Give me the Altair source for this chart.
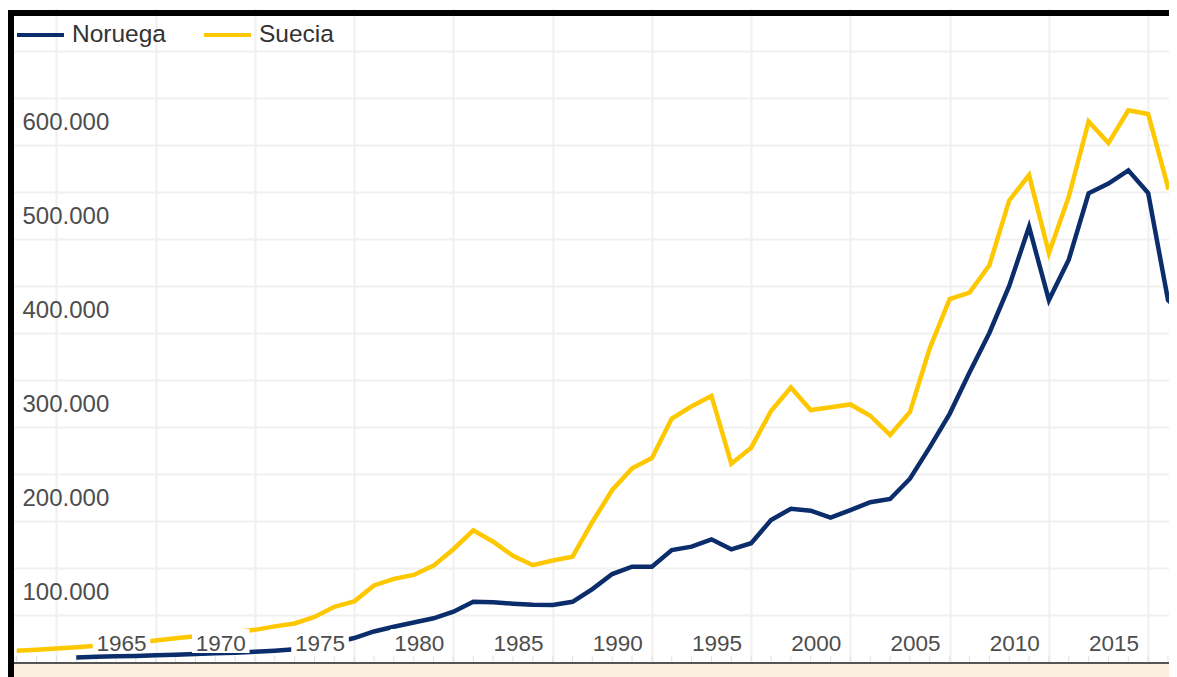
import altair as alt
import pandas as pd

# ---------------- data (GDP, millions US$) ----------------
sweden_years = list(range(1957, 2017))
sweden_values = [12000, 13000, 14300, 15800, 17300, 18900, 20700, 22900, 25200, 27500,
                 29800, 31600, 34200, 37900, 41000, 47900, 58700, 64500, 81500, 88500,
                 92600, 102500, 120000, 140000, 128000, 113000, 103000, 108000, 112000, 149000,
                 183000, 206000, 217000, 259000, 272000, 283000, 211000, 228000, 267000, 292000,
                 268000, 271000, 274000, 262000, 241500, 266000, 334000, 386000, 393000, 422000,
                 491000, 518000, 435000, 495000, 575000, 552000, 587000, 583000, 505000, 515000]

norway_years = list(range(1960, 2017))
norway_values = [4800, 5500, 6000, 6500, 7100, 7800, 8500, 9300, 9900, 10800,
                 12000, 13500, 16000, 20500, 25500, 32500, 37500, 42000, 46500, 53500,
                 64000, 63500, 62000, 60800, 60600, 64000, 77500, 93600, 101400, 101400,
                 119100, 122700, 130500, 119900, 126300, 151000, 163000, 161000, 153500, 161500,
                 170000, 173400, 195000, 228600, 264000, 308000, 350000, 400000, 463000, 385000,
                 428000, 498600, 509000, 523000, 499000, 385000, 366000]

series_names = ["Noruega", "Suecia"]
series_colors = ["#0b2d6b", "#fec800"]

x_grid_years = list(range(1959, 2015, 5))
x_label_years = list(range(1965, 2016, 5))
minor_years = list(range(1957, 2016))
y_grid_values = list(range(50000, 700000, 50000))

# ---------------- build table ----------------
df = pd.concat([
    pd.DataFrame({"year": norway_years, "value": norway_values, "pais": "Noruega"}),
    pd.DataFrame({"year": sweden_years, "value": sweden_values, "pais": "Suecia"}),
])
labels_df = pd.DataFrame({"year": x_label_years, "text": [str(y) for y in x_label_years]})
minor_df = pd.DataFrame({"year": minor_years})
one = pd.DataFrame({"a": [0]})

FONT = "Liberation Sans, Arial, sans-serif"
W, H = 1161, 654
GRID = "#f0f0f0"
LABEL_SHIFT = 2.72   # labels sit between grid lines (years)
BOX_HALF = 1.45      # half width of the white box behind x labels (years)

x_scale = alt.Scale(domain=[1956.56, 2015.05], nice=False, zero=False)
y_scale = alt.Scale(domain=[0, 695745], nice=False, zero=False)

x_axis = alt.Axis(values=x_grid_years, grid=True, gridColor=GRID, gridWidth=2,
                  labels=False, ticks=False, tickSize=0, domain=False, title=None)
y_axis = alt.Axis(values=y_grid_values, grid=True, gridColor=GRID, gridWidth=2,
                  ticks=False, tickSize=0, domain=False, title=None,
                  labelExpr="datum.value % 100000 == 0 ? format(datum.value / 1000, 'd') + '.000' : ''",
                  labelAlign="left", labelBaseline="alphabetic", labelPadding=-14, labelOffset=31,
                  labelFont=FONT, labelFontSize=24, labelColor="#4d4d4d",
                  labelOverlap=False)

lines = alt.Chart(df).mark_line(strokeWidth=4.5, clip=True).encode(
    x=alt.X("year:Q", scale=x_scale, axis=x_axis),
    y=alt.Y("value:Q", scale=y_scale, axis=y_axis),
    color=alt.Color("pais:N",
                    scale=alt.Scale(domain=series_names, range=series_colors),
                    legend=alt.Legend(orient="none", legendX=7, legendY=1.5,
                                      direction="horizontal", title=None,
                                      symbolType="stroke", symbolStrokeWidth=4,
                                      symbolSize=2209, labelFontSize=24.5, labelFont=FONT,
                                      labelColor="#333333", columnPadding=30,
                                      labelOffset=6)),
)

minor = alt.Chart(minor_df).mark_rule(color="#e2e2e2", strokeWidth=1).encode(
    x=alt.X("year:Q", scale=x_scale, axis=x_axis),
    y=alt.value(648), y2=alt.value(654),
)

boxes = alt.Chart(labels_df).transform_calculate(
    x_lo=f"datum.year - {LABEL_SHIFT} - {BOX_HALF}",
    x_hi=f"datum.year - {LABEL_SHIFT} + {BOX_HALF}",
).mark_rect(color="white").encode(
    x=alt.X("x_lo:Q", scale=x_scale, axis=x_axis),
    x2="x_hi:Q",
    y=alt.value(621), y2=alt.value(645),
)

xtext = alt.Chart(labels_df).mark_text(
    font=FONT, fontSize=22.5, color="#4d4d4d", dx=-54, baseline="alphabetic").encode(
    x=alt.X("year:Q", scale=x_scale, axis=x_axis),
    y=alt.value(643), text="text:N")

left_border = alt.Chart(one).mark_rect(color="black").encode(
    x=alt.value(0), x2=alt.value(6), y=alt.value(2), y2=alt.value(669))
top_border = alt.Chart(one).mark_rect(color="black").encode(
    x=alt.value(0), x2=alt.value(W), y=alt.value(2), y2=alt.value(8))
beige = alt.Chart(one).mark_rect(color="#fdefe0").encode(
    x=alt.value(0), x2=alt.value(W), y=alt.value(656), y2=alt.value(669))
axis_line = alt.Chart(one).mark_rect(color="#555555").encode(
    x=alt.value(0), x2=alt.value(W), y=alt.value(654), y2=alt.value(656))

chart = alt.layer(minor, lines, boxes, xtext, beige, axis_line, left_border, top_border).properties(
    width=W, height=H,
    autosize=alt.AutoSizeParams(type="none"),
    padding={"left": 0, "top": 0, "right": 0, "bottom": 15},
    background="white",
).configure_view(stroke=None)

chart.save("out.html", embed_options={"renderer": "svg", "actions": False})
